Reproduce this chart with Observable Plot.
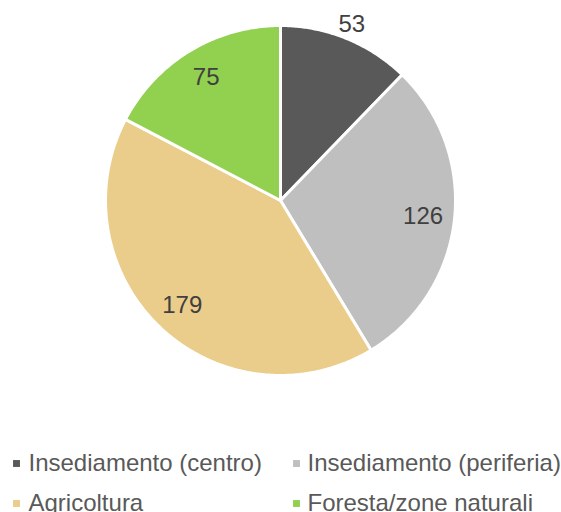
<!DOCTYPE html>
<html>
<head>
<meta charset="utf-8">
<script src="https://cdn.jsdelivr.net/npm/d3@7"></script>
<script src="https://cdn.jsdelivr.net/npm/@observablehq/plot@0.6"></script>
<style>
  html, body { margin: 0; padding: 0; background: #fff; }
  svg { display: block; }
</style>
</head>
<body>
<div id="chart"></div>
<script>
const categories = ["Insediamento (centro)", "Insediamento (periferia)", "Agricoltura", "Foresta/zone naturali"];
const values = [53, 126, 179, 75];
const colors = ["#595959", "#bfbfbf", "#ebcd8b", "#92d050"];

const W = 561, H = 512;
const cx = 280, cy = 200, R = 175;

const arcs = d3.pie().sort(null).value(d => d)(values);

function pt(a, r) { return [cx + r * Math.sin(a), cy - r * Math.cos(a)]; }

const slices = arcs.map((a, i) => {
  const pts = [[cx, cy]];
  const n = Math.max(2, Math.ceil((a.endAngle - a.startAngle) / (Math.PI / 360)));
  for (let k = 0; k <= n; k++) {
    const t = a.startAngle + (a.endAngle - a.startAngle) * k / n;
    pts.push(pt(t, R));
  }
  pts.push([cx, cy]);
  return pts.map(([x, y]) => ({x, y, name: categories[i]}));
});

const labels = arcs.map((a, i) => {
  const mid = (a.startAngle + a.endAngle) / 2;
  // smallest slice label is placed outside the pie, others inside
  const r = i === 0 ? R + 15 : R * 0.82;
  const [x, y] = pt(mid, r);
  return {x, y, text: String(values[i])};
});

const legend = categories.map((c, i) => ({
  name: c,
  color: colors[i],
  mx: [16, 296][i % 2],
  tx: [28, 307][i % 2],
  y: [463, 503][Math.floor(i / 2)]
}));

const font = "'Liberation Sans', Arial, sans-serif";

const marks = [];
slices.forEach((s, i) => {
  marks.push(Plot.line(s, {x: "x", y: "y", fill: colors[i], stroke: "#ffffff", strokeWidth: 3, strokeLinejoin: "round"}));
});
marks.push(Plot.text(labels, {x: "x", y: "y", text: "text", fontSize: 24, fill: "#404040", fontFamily: font, lineAnchor: "middle", textAnchor: "middle"}));
marks.push(Plot.dot(legend, {x: "mx", y: "y", symbol: "square", r: 3.9, fill: d => d.color, stroke: null}));
marks.push(Plot.text(legend, {x: "tx", y: "y", text: "name", fontSize: 24, fill: "#595959", fontFamily: font, textAnchor: "start", lineAnchor: "middle"}));

const chart = Plot.plot({
  width: W,
  height: H,
  margin: 0,
  x: {domain: [0, W], axis: null},
  y: {domain: [0, H], reverse: true, axis: null},
  style: {background: "#ffffff", fontFamily: font},
  marks
});
document.getElementById("chart").appendChild(chart);
</script>
</body>
</html>
